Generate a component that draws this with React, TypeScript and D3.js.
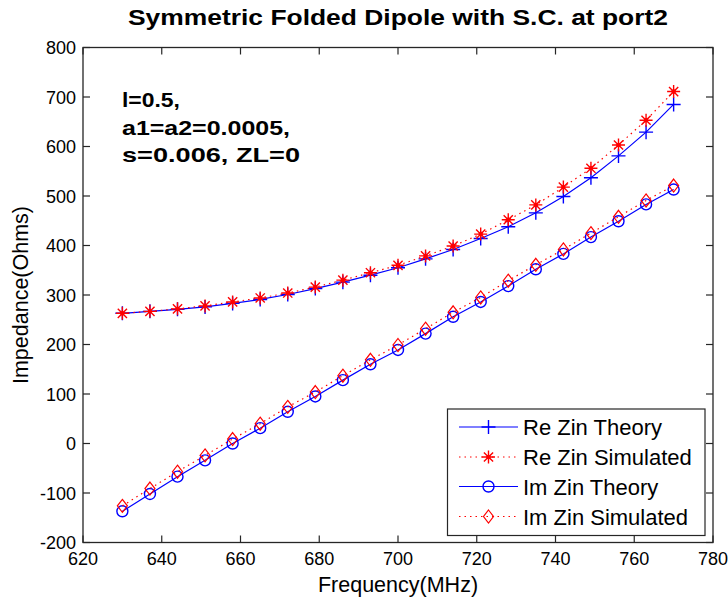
import React from "react";
import * as d3 from "d3";

const freqs = [630, 637, 644, 651, 658, 665, 672, 679, 686, 693, 700, 707, 714, 721, 728, 735, 742, 749, 756, 763, 770];
const reTheory = [263, 267, 271, 276, 283, 291, 301, 313, 326, 340, 355, 373, 392, 414, 438, 466, 499, 537, 581, 629, 685];
const reSim = [263, 267, 272, 278, 286, 294, 304, 316, 330, 345, 360, 379, 399, 423, 452, 482, 518, 556, 603, 653, 711];
const imTheory = [-137, -102, -67, -34, 0, 31, 64, 95, 128, 160, 189, 222, 256, 286, 318, 352, 383, 417, 449, 483, 513];
const imSim = [-126, -91, -57, -24, 9, 40, 74, 104, 137, 169, 199, 232, 265, 295, 329, 361, 392, 425, 458, 491, 521];

const xTicks = [620, 640, 660, 680, 700, 720, 740, 760, 780];
const yTicks = [-200, -100, 0, 100, 200, 300, 400, 500, 600, 700, 800];
const legendLabels = ["Re Zin Theory", "Re Zin Simulated", "Im Zin Theory", "Im Zin Simulated"];
const annotLines = ["l=0.5,", "a1=a2=0.0005,", "s=0.006, ZL=0"];
const annotWidths = [58, 168, 178];
const title = "Symmetric Folded Dipole with S.C. at port2";

const W = 728, H = 600;
const L = 83, R = 713, T = 47.5, B = 542.5;
const FONT = "'Liberation Sans', Arial, sans-serif";
const BLUE = "#0000ff", RED = "#ff0000", AX = "#262626";

type Kind = "plus" | "star" | "circle" | "diamond";

function Marker({ kind, x, y }: { kind: Kind; x: number; y: number }) {
  if (kind === "plus") {
    const s = 7;
    return <path d={`M${x - s},${y}H${x + s}M${x},${y - s}V${y + s}`} stroke={BLUE} strokeWidth={1.4} fill="none" />;
  }
  if (kind === "star") {
    const s = 6.5, d = 4.6;
    return (
      <g stroke={RED} strokeWidth={1.4} fill="none">
        <path d={`M${x - s},${y}H${x + s}M${x},${y - s}V${y + s}M${x - d},${y - d}L${x + d},${y + d}M${x - d},${y + d}L${x + d},${y - d}`} />
        <circle cx={x} cy={y} r={2.2} fill={RED} stroke="none" />
      </g>
    );
  }
  if (kind === "circle") {
    return <circle cx={x} cy={y} r={5.5} stroke={BLUE} strokeWidth={1.4} fill="none" />;
  }
  const hx = 5, hy = 6.5;
  return <path d={`M${x},${y - hy}L${x + hx},${y}L${x},${y + hy}L${x - hx},${y}Z`} stroke={RED} strokeWidth={1.2} fill="none" />;
}

export default function App() {
  const x = d3.scaleLinear().domain([620, 780]).range([L, R]);
  const y = d3.scaleLinear().domain([-200, 800]).range([B, T]);
  const line = d3.line<[number, number]>().x((d) => x(d[0])).y((d) => y(d[1]));

  const series: { vals: number[]; color: string; dash?: string; kind: Kind }[] = [
    { vals: reTheory, color: BLUE, kind: "plus" },
    { vals: reSim, color: RED, dash: "1.5 4", kind: "star" },
    { vals: imTheory, color: BLUE, kind: "circle" },
    { vals: imSim, color: RED, dash: "1.5 4", kind: "diamond" },
  ];

  const tickLen = 7;
  const legX = 447.5, legY = 409, legW = 257.5, legH = 126.5;
  const rowY = [427, 457, 486.5, 516.5];

  return (
    <svg width={W} height={H} style={{ position: "absolute", left: 0, top: 0, background: "#fff" }} fontFamily={FONT}>
      <rect x={0} y={0} width={W} height={H} fill="#fff" />
      {series.map((s, i) => (
        <g key={i}>
          <path
            d={line(freqs.map((f, j) => [f, s.vals[j]] as [number, number])) || ""}
            stroke={s.color}
            strokeWidth={1.2}
            strokeDasharray={s.dash}
            fill="none"
          />
          {freqs.map((f, j) => (
            <Marker key={j} kind={s.kind} x={x(f)} y={y(s.vals[j])} />
          ))}
        </g>
      ))}
      <rect x={L} y={T} width={R - L} height={B - T} fill="none" stroke={AX} strokeWidth={1.3} />
      {xTicks.map((t, i) => (
        <g key={i}>
          <line x1={x(t)} x2={x(t)} y1={B} y2={B - tickLen} stroke={AX} strokeWidth={1.2} />
          <line x1={x(t)} x2={x(t)} y1={T} y2={T + tickLen} stroke={AX} strokeWidth={1.2} />
          <text x={x(t)} y={565} textAnchor="middle" fontSize={18} fill="#000">{t}</text>
        </g>
      ))}
      {yTicks.map((t, i) => (
        <g key={i}>
          <line x1={L} x2={L + tickLen} y1={y(t)} y2={y(t)} stroke={AX} strokeWidth={1.2} />
          <line x1={R} x2={R - tickLen} y1={y(t)} y2={y(t)} stroke={AX} strokeWidth={1.2} />
          <text x={76} y={y(t) + 6.5} textAnchor="end" fontSize={18} fill="#000">{t}</text>
        </g>
      ))}
      <text x={398} y={25} textAnchor="middle" fontSize={22} fontWeight="bold" textLength={540} lengthAdjust="spacingAndGlyphs">{title}</text>
      <text x={398} y={592} textAnchor="middle" fontSize={21.5}>Frequency(MHz)</text>
      <text transform="translate(28,295) rotate(-90)" textAnchor="middle" fontSize={21.5}>Impedance(Ohms)</text>
      {annotLines.map((s, i) => (
        <text key={i} x={122} y={107 + i * 27.5} fontSize={21} fontWeight="bold" textLength={annotWidths[i]} lengthAdjust="spacingAndGlyphs">{s}</text>
      ))}
      <rect x={legX} y={legY} width={legW} height={legH} fill="#fff" stroke={AX} strokeWidth={1.2} />
      {series.map((s, i) => (
        <g key={i}>
          <line x1={459} x2={518} y1={rowY[i]} y2={rowY[i]} stroke={s.color} strokeWidth={1.2} strokeDasharray={s.dash} />
          <Marker kind={s.kind} x={488.5} y={rowY[i]} />
          <text x={523} y={rowY[i] + 8} fontSize={22} fill="#000">{legendLabels[i]}</text>
        </g>
      ))}
    </svg>
  );
}
